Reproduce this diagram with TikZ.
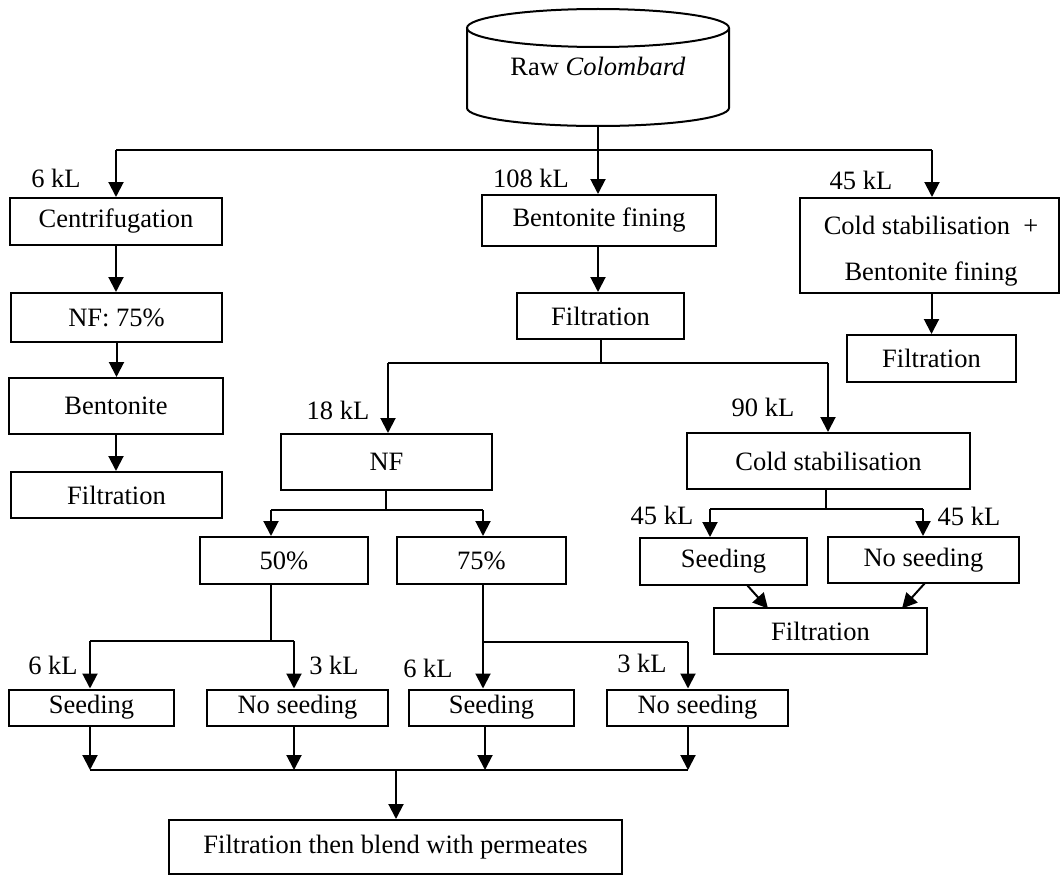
\documentclass[tikz,border=0pt]{standalone}
\usepackage{fontspec}
\setmainfont{Liberation Serif}
\usetikzlibrary{arrows.meta}

\begin{document}
\begin{tikzpicture}[
  x=1pt, y=-1pt,
  every node/.style={font=\fontsize{26.5}{30}\selectfont, inner sep=0pt},
  stage/.style={draw, line width=2pt, rectangle},
  flow/.style={line width=2pt},
  arr/.style={flow, -{Triangle[width=15pt,length=15pt]}},
  vol/.style={anchor=center}
]
\fill[white] (0,0) rectangle (1061,875);
\useasboundingbox (0,0) rectangle (1061,875);

% source tank
\draw[line width=2pt, fill=white] (467,28) -- (467,108)
  arc[start angle=180, end angle=0, x radius=131, y radius=18] -- (729,28);
\draw[line width=2pt] (598,28) ellipse [x radius=131, y radius=19];
\node (raw) at (598,66) {Raw \textit{Colombard}};
\coordinate (rawbot) at (598,126);

% process stages
\node[stage, minimum width=212pt, minimum height=47pt] (cen) at (116,221.5) {Centrifugation};
\node[stage, minimum width=211pt, minimum height=49pt] (nf75) at (116.5,317.5) {NF: 75\%};
\node[stage, minimum width=214pt, minimum height=56pt] (bent) at (116,406) {Bentonite};
\node[stage, minimum width=211pt, minimum height=46pt] (filtL) at (116.5,495) {Filtration};

\node[stage, minimum width=234pt, minimum height=51pt] (benf) at (599,220.5) {Bentonite fining};
\node[stage, minimum width=167pt, minimum height=46pt] (filtM) at (600.5,316) {Filtration};

\node[stage, minimum width=259pt, minimum height=95pt] (cbb) at (929.5,245.5) {};
\node[align=center, font=\fontsize{26.5}{46}\selectfont] (cbbtext) at (931,251)
  {Cold stabilisation\ \ +\\Bentonite fining};
\node[stage, minimum width=169pt, minimum height=47pt] (filtR) at (931.5,358.5) {Filtration};

\node[stage, minimum width=211pt, minimum height=56pt] (nf) at (386.5,462) {NF};
\node[stage, minimum width=283pt, minimum height=56pt] (cs) at (828.5,461) {Cold stabilisation};

\node[stage, minimum width=168pt, minimum height=47pt] (p50) at (284,560.5) {50\%};
\node[stage, minimum width=169pt, minimum height=47pt] (p75) at (481.5,560.5) {75\%};

\node[stage, minimum width=167pt, minimum height=47pt] (seedR) at (723.5,561.5) {Seeding};
\node[stage, minimum width=191pt, minimum height=46pt] (noseedR) at (923.5,560) {No seeding};
\node[stage, minimum width=213pt, minimum height=46pt] (filtRR) at (820.5,631) {Filtration};

\node[stage, minimum width=165pt, minimum height=36pt] (seed1) at (91.5,707.5) {Seeding};
\node[stage, minimum width=181pt, minimum height=36pt] (noseed1) at (297.5,707.5) {No seeding};
\node[stage, minimum width=165pt, minimum height=36pt] (seed2) at (491.5,707.5) {Seeding};
\node[stage, minimum width=181pt, minimum height=36pt] (noseed2) at (697.5,707.5) {No seeding};

\node[stage, minimum width=453pt, minimum height=54pt] (final) at (395.5,847) {Filtration then blend with permeates};

% volume labels
\node[vol] (v6a) at (56,178) {6 kL};
\node[vol] (v108) at (531,178) {108 kL};
\node[vol] (v45a) at (861,180) {45 kL};
\node[vol] (v18) at (338,410) {18 kL};
\node[vol] (v90) at (763,407) {90 kL};
\node[vol] (v45b) at (662,515) {45 kL};
\node[vol] (v45c) at (969,516) {45 kL};
\node[vol] (v6b) at (53,665) {6 kL};
\node[vol] (v3a) at (334,665) {3 kL};
\node[vol] (v6c) at (428,668) {6 kL};
\node[vol] (v3b) at (642,663) {3 kL};

% split of the raw juice
\coordinate (s0) at (598,150);
\coordinate (sL) at (116,150);
\coordinate (sR) at (932,150);
\draw[flow] (rawbot) -- (s0);
\draw[flow] (sL) -- (sR);
\draw[arr] (sL) -- (sL |- cen.north);
\draw[arr] (s0) -- (s0 |- benf.north);
\draw[arr] (sR) -- (sR |- cbb.north);

% left line
\draw[arr] (cen.south) -- (cen.south |- nf75.north);
\draw[arr] (nf75.south) -- (nf75.south |- bent.north);
\draw[arr] (bent.south) -- (bent.south |- filtL.north);

% middle line
\draw[arr] (s0 |- benf.south) -- (s0 |- filtM.north);
\coordinate (m0) at (601,363);
\coordinate (mL) at (388,363);
\coordinate (mR) at (828,363);
\draw[flow] (filtM.south -| m0) -- (m0);
\draw[flow] (mL) -- (mR);
\draw[arr] (mL) -- (mL |- nf.north);
\draw[arr] (mR) -- (mR |- cs.north);

% right line
\draw[arr] (filtR.north |- cbb.south) -- (filtR.north);

% NF permeate split
\coordinate (n0) at (386,510);
\coordinate (nL) at (271,510);
\coordinate (nR) at (483,510);
\draw[flow] (n0 |- nf.south) -- (n0);
\draw[flow] (nL) -- (nR);
\draw[arr] (nL) -- (nL |- p50.north);
\draw[arr] (nR) -- (nR |- p75.north);

% cold stabilisation split
\coordinate (c0) at (826,509);
\coordinate (cL) at (710,509);
\coordinate (cR) at (923,509);
\draw[flow] (c0 |- cs.south) -- (c0);
\draw[flow] (cL) -- (cR);
\draw[arr] (cL) -- (cL |- seedR.north);
\draw[arr] (cR) -- (cR |- noseedR.north);
\coordinate (dsA) at (747,585);
\coordinate (dtA) at (768,608.5);
\coordinate (dsB) at (925,583);
\coordinate (dtB) at (902,608.5);
\draw[arr] (dsA) -- (dtA);
\draw[arr] (dsB) -- (dtB);

% 50% split
\coordinate (a0) at (271,641);
\coordinate (aL) at (90,641);
\coordinate (aR) at (294,641);
\draw[flow] (a0 |- p50.south) -- (a0);
\draw[flow] (aL) -- (aR);
\draw[arr] (aL) -- (aL |- seed1.north);
\draw[arr] (aR) -- (aR |- noseed1.north);

% 75% split
\coordinate (b0) at (483,642);
\coordinate (bR) at (688,642);
\draw[arr] (b0 |- p75.south) -- (b0 |- seed2.north);
\draw[flow] (b0) -- (bR);
\draw[arr] (bR) -- (bR |- noseed2.north);

% collection to the final blend
\coordinate (k1) at (90,770);
\coordinate (k2) at (294,770);
\coordinate (k3) at (485,770);
\coordinate (k4) at (688,770);
\coordinate (k0) at (396,770);
\draw[arr] (k1 |- seed1.south) -- (k1);
\draw[arr] (k2 |- noseed1.south) -- (k2);
\draw[arr] (k3 |- seed2.south) -- (k3);
\draw[arr] (k4 |- noseed2.south) -- (k4);
\draw[flow] (k1) -- (k4);
\draw[arr] (k0) -- (k0 |- final.north);
\end{tikzpicture}
\end{document}
